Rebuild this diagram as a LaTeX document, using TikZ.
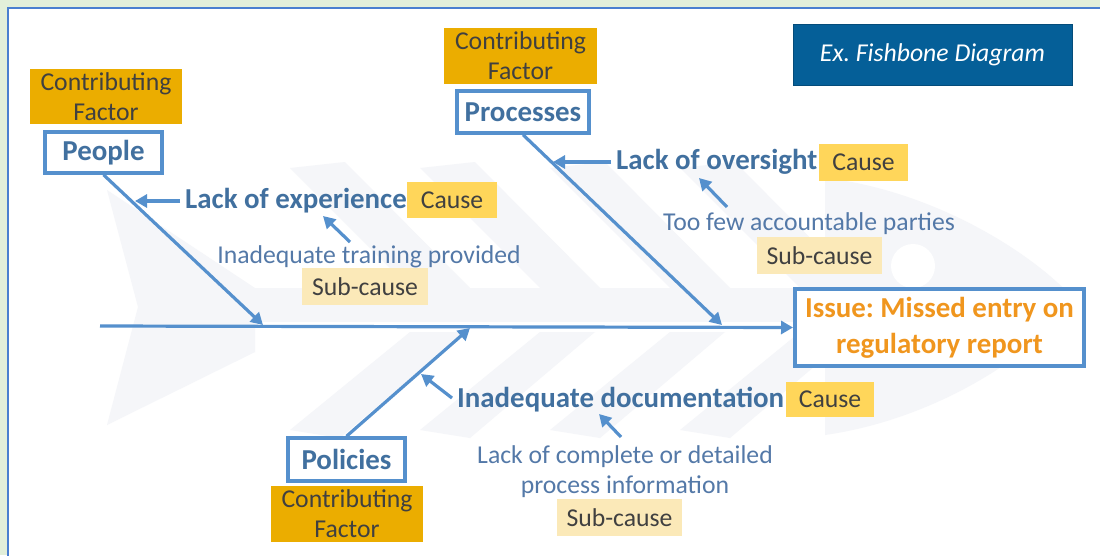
\documentclass[tikz,border=0pt]{standalone}
\usepackage{fontspec}
\setmainfont{Carlito}
\usetikzlibrary{arrows.meta}
\definecolor{bggreen}{HTML}{E2EFDA}
\definecolor{frameblue}{HTML}{4A7FD0}
\definecolor{lineblue}{HTML}{5590CD}
\definecolor{darkblue}{HTML}{41709F}
\definecolor{subblue}{HTML}{5479A8}
\definecolor{cfgold}{HTML}{EBAD00}
\definecolor{causeyel}{HTML}{FFD65A}
\definecolor{subyel}{HTML}{FBE9B8}
\definecolor{txtgrey}{HTML}{404040}
\definecolor{titleblue}{HTML}{055F98}
\definecolor{issueorange}{HTML}{F0961E}
\definecolor{fishgrey}{HTML}{F5F6F9}
\newcommand\fReg{\fontsize{25.7}{30}\selectfont}
\newcommand\fBold{\fontsize{28.9}{36}\selectfont\bfseries}
\frenchspacing
\begin{document}
\begin{tikzpicture}[x=1pt,y=-1pt,
  factor/.style={fill=cfgold,text=txtgrey,font=\fReg,align=center,inner sep=0pt},
  catbox/.style={draw=lineblue,line width=3.5pt,fill=white,text=darkblue,font=\fBold,inner sep=0pt},
  causebox/.style={fill=causeyel,text=txtgrey,font=\fReg,inner sep=0pt},
  subbox/.style={fill=subyel,text=txtgrey,font=\fReg,inner sep=0pt},
  causetxt/.style={text=darkblue,font=\fBold,inner sep=0pt,anchor=west},
  subtxt/.style={text=subblue,font=\fReg,inner sep=0pt,align=center},
  arr/.style={draw=lineblue,line width=3.2pt,-{Triangle[length=12pt,width=13pt]}},
  fish/.style={fill=fishgrey,draw=none}]
\useasboundingbox (0,0) rectangle (1100,555);
% frame
\fill[bggreen] (0,0) rectangle (1100,555);
\fill[white] (8,8) rectangle (1100,555);
\draw[frameblue,line width=2.5pt] (8,560) -- (8,8) -- (1105,8);
% fish watermark
\fill[fish] (107,190) -- (255,288) -- (255,352) -- (107,425) -- (138,307) -- cycle;
\fill[fish] (255,288) rectangle (825,322);
\foreach \a in {290,420,550,680}{
  \fill[fish] (\a,168) -- (\a+55,162) -- (\a+180,288) -- (\a+120,288) -- cycle;
  \fill[fish] (\a+120,332) -- (\a+175,332) -- (\a+50,438) -- (\a,430) -- cycle;
}
\fill[fish] (825,178) .. controls (930,190) and (1030,250) .. (1075,300)
  .. controls (1030,360) and (930,420) .. (825,435) -- cycle;
\fill[white] (913,266) circle (22);
% title
\node[fill=titleblue,draw=titleblue!80!black,line width=0.6pt,text=white,font=\fReg\itshape,
  minimum width=279pt,minimum height=61pt,inner sep=0pt] (title) at (932.5,54.5) {Ex. Fishbone Diagram};
% effect
\node[draw=lineblue,line width=4pt,fill=white,text=issueorange,font=\fBold,align=center,
  minimum width=289pt,minimum height=77pt,inner sep=0pt] (issue) at (939.5,327.5)
  {Issue: Missed entry on\\regulatory report};
% category boxes
\node[factor,minimum width=152pt,minimum height=55pt] (cf1) at (106,96.5) {Contributing\\Factor};
\node[catbox,minimum width=117pt,minimum height=41pt] (people) at (103.5,152.5) {People};
\node[factor,minimum width=153pt,minimum height=56pt] (cf2) at (520.5,56) {Contributing\\Factor};
\node[catbox,minimum width=132pt,minimum height=42pt] (proc) at (523,112) {Processes};
\node[catbox,minimum width=117pt,minimum height=43pt] (pol) at (346.5,459.5) {Policies};
\node[factor,minimum width=152pt,minimum height=56pt] (cf3) at (347,514) {Contributing\\Factor};
% causes
\node[causetxt] (t1) at (185,201) {Lack of experience};
\node[causebox,minimum width=90pt,minimum height=36pt] (c1) at (452,200) {Cause};
\node[causetxt] (t2) at (616,162) {Lack of oversight};
\node[causebox,minimum width=89pt,minimum height=37pt] (c2) at (863.5,162.5) {Cause};
\node[causetxt] (t3) at (457,400) {Inadequate documentation};
\node[causebox,minimum width=88pt,minimum height=35pt] (c3) at (830,399.5) {Cause};
% sub-causes
\node[subtxt] (s1) at (369,257) {Inadequate training provided};
\node[subbox,minimum width=126pt,minimum height=37pt] (u1) at (365,286.5) {Sub-cause};
\node[subtxt] (s2) at (809,224) {Too few accountable parties};
\node[subbox,minimum width=125pt,minimum height=37pt] (u2) at (819.5,255.5) {Sub-cause};
\node[subtxt,text depth=0pt] (s3) at (625,470) {Lack of complete or detailed\\process information};
\node[subbox,minimum width=125pt,minimum height=37pt] (u3) at (619.5,517.5) {Sub-cause};
% spine and bones
\coordinate (tail) at (100,326);
\coordinate (j1) at (263,325);
\coordinate (j2) at (722,325);
\coordinate (j3) at (470,328);
\draw[arr] (tail) -- (issue.west);
\draw[arr] (people.south) -- (j1);
\draw[arr] (proc.south) -- (j2);
\draw[arr] (pol.north) -- (j3);
% cause arrows
\coordinate (b1) at (135,201);
\coordinate (b2) at (553,162);
\coordinate (b3) at (421,374);
\draw[arr] ([xshift=-5pt]t1.west) -- (b1);
\draw[arr] ([xshift=-5pt]t2.west) -- (b2);
\coordinate (a3s) at (452,398);
\draw[arr] (a3s) -- (b3);
% sub-cause arrows
\coordinate (a1s) at (350,242); \coordinate (a1e) at (323,216);
\coordinate (a2s) at (727,207); \coordinate (a2e) at (699,178);
\coordinate (a3a) at (621,437); \coordinate (a3b) at (599,414);
\draw[arr] (a1s) -- (a1e);
\draw[arr] (a2s) -- (a2e);
\draw[arr] (a3a) -- (a3b);
\end{tikzpicture}
\end{document}
